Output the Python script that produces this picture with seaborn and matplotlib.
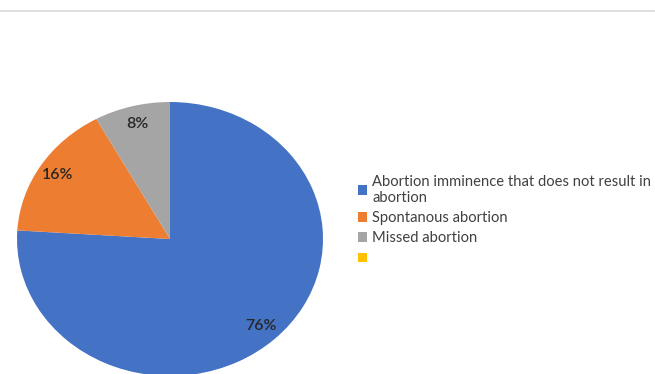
import matplotlib
matplotlib.use("Agg")
import matplotlib.pyplot as plt
import seaborn as sns
from matplotlib.lines import Line2D

# Data
labels = ["Abortion imminence that does not result in\nabortion",
          "Spontanous abortion",
          "Missed abortion",
          ""]
shares = [76, 16, 8, 0]
colors = ["#4472C4", "#ED7D31", "#A5A5A5", "#FFC000"]

sns.set_theme(style="white")
plt.rcParams['font.family'] = ['Lato', 'DejaVu Sans']

fig = plt.figure(figsize=(6.55, 3.74), dpi=100)
# pie is slightly wider than tall and cut at the bottom edge
ax = fig.add_axes([17 / 655, -2 / 374, 306 / 655, 274 / 374])

wedges, texts, autotexts = ax.pie(
    shares, colors=colors, startangle=90, counterclock=False,
    autopct=lambda p: f"{p:.0f}%" if p > 0 else "", pctdistance=0.87,
    wedgeprops=dict(linewidth=0),
    textprops=dict(color="#262626", fontsize=11.5, fontweight=600))
ax.set_aspect('auto')
ax.set_xlim(-1, 1)
ax.set_ylim(-1, 1)
ax.axis('off')

fig.legend(wedges, labels, loc='upper left', bbox_to_anchor=(343 / 655, 1 - 160 / 374),
           frameon=False, fontsize=10.6, labelcolor="#404040",
           handlelength=0.6, handleheight=0.6, handletextpad=0.4,
           labelspacing=0.42, borderpad=0.5)

# thin rule near the top
fig.add_artist(Line2D([0, 1], [1 - 10.5 / 374] * 2, color="#d9d9d9", lw=1.2))

fig.savefig("out.png", dpi=100)
